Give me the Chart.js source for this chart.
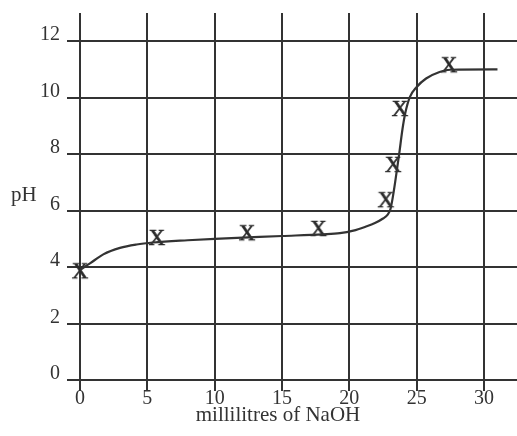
<!DOCTYPE html>
<html>
<head>
<meta charset="utf-8">
<script src="https://cdn.jsdelivr.net/npm/chart.js@4/dist/chart.umd.min.js"></script>
<style>
  html, body { margin: 0; padding: 0; background: #ffffff; }
  #wrap { width: 517px; height: 436px; }
</style>
</head>
<body>
<div id="wrap"><canvas id="myChart" width="517" height="436"></canvas></div>
<script>
// tick labels
const xTicks = [0, 5, 10, 15, 20, 25, 30];
const yTicks = [0, 2, 4, 6, 8, 10, 12];

// measured points (the X marks)
const markX = [0, 5.7, 12.4, 17.7, 22.7, 23.25, 23.75, 27.4];
const markY = [3.85, 5.03, 5.2, 5.35, 6.37, 7.62, 9.6, 11.15];

// hand-drawn curve
const curveX = [0, 0.74, 1.73, 2.97, 4.2, 5.44, 8, 10, 15, 18, 19.3, 20.3, 21.2, 21.9, 22.5, 22.85, 23.05, 23.2, 23.4, 23.7, 23.95, 24.15, 24.5, 25.0, 25.7, 26.7, 27.5, 31];
const curveY = [3.9, 4.13, 4.45, 4.68, 4.8, 4.87, 4.95, 5.0, 5.1, 5.16, 5.2, 5.29, 5.43, 5.56, 5.72, 5.86, 6.05, 6.4, 7.0, 8.0, 8.9, 9.45, 10.03, 10.38, 10.68, 10.91, 10.99, 11.0];

const ink = '#333333';
const serif = '"Liberation Serif", "DejaVu Serif", serif';

// "X" glyph used as the point marker
const xMark = document.createElement('canvas');
xMark.width = 24; xMark.height = 24;
const mctx = xMark.getContext('2d');
mctx.fillStyle = '#2a2a2a';
mctx.strokeStyle = '#2a2a2a';
mctx.lineWidth = 0.6;
mctx.font = '23px ' + serif;
mctx.textAlign = 'center';
mctx.textBaseline = 'middle';
mctx.fillText('X', 12, 13);
mctx.strokeText('X', 12, 13);

const titles = {
    id: 'titles',
    afterDraw(chart) {
        const c = chart.ctx;
        c.save();
        c.fillStyle = ink;
        c.font = '21px ' + serif;
        c.textAlign = 'left';
        c.textBaseline = 'alphabetic';
        c.fillText('pH', 11, 201);
        c.textAlign = 'center';
        c.fillText('millilitres of NaOH', 278, 421);
        c.restore();
    }
};

const ctx = document.getElementById('myChart');

const myChart = new Chart(ctx, {
    type: 'scatter',
    data: {
        datasets: [
            {
                label: 'curve',
                data: curveX.map((x, i) => ({ x: x, y: curveY[i] })),
                showLine: true,
                borderColor: ink,
                borderWidth: 2.2,
                pointRadius: 0,
                cubicInterpolationMode: 'monotone',
                clip: false
            },
            {
                label: 'readings',
                data: markX.map((x, i) => ({ x: x, y: markY[i] })),
                pointStyle: xMark,
                pointRadius: 12,
                clip: false
            }
        ]
    },
    options: {
        responsive: false,
        animation: false,
        layout: { autoPadding: false, padding: { top: 13, right: 0, bottom: 0, left: 0 } },
        plugins: {
            legend: { display: false },
            tooltip: { enabled: false }
        },
        scales: {
            x: {
                type: 'linear',
                min: 0,
                max: 32.45,
                afterBuildTicks: function (scale) {
                    scale.ticks = xTicks.map(v => ({ value: v }));
                },
                afterFit: function (scale) {
                    scale.height = 56;
                    scale.paddingLeft = 0;
                    scale.paddingRight = 0;
                },
                border: { display: false },
                grid: { color: ink, lineWidth: 2, tickLength: 11, tickColor: ink },
                ticks: {
                    color: ink,
                    padding: -4,
                    maxRotation: 0,
                    font: { family: serif, size: 20 }
                }
            },
            y: {
                type: 'linear',
                min: 0,
                max: 13,
                afterBuildTicks: function (scale) {
                    scale.ticks = yTicks.map(v => ({ value: v }));
                },
                afterFit: function (scale) {
                    scale.width = 80;
                    scale.paddingTop = 0;
                    scale.paddingBottom = 0;
                },
                border: { display: false },
                grid: { color: ink, lineWidth: 2, tickLength: 13, tickColor: ink },
                ticks: {
                    color: ink,
                    padding: 7,
                    labelOffset: -6,
                    font: { family: serif, size: 20 }
                }
            }
        }
    },
    plugins: [titles]
});
</script>
</body>
</html>
